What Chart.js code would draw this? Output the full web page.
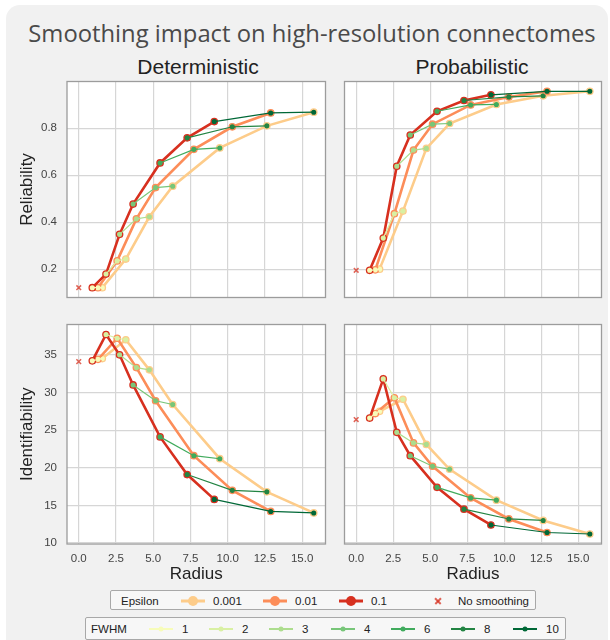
<!DOCTYPE html>
<html>
<head>
<meta charset="utf-8">
<script src="https://cdn.jsdelivr.net/npm/chart.js@4.4.1/dist/chart.umd.min.js"></script>
<style>
  body { margin:0; width:610px; height:640px; overflow:hidden; background:#fff;
         font-family:'Liberation Sans', Arial, sans-serif; position:relative; }
  #panel { position:absolute; left:6px; top:5px; width:602px; height:660px;
           background:#f1f1f1; border-radius:14px; }
  .abs { position:absolute; }
  #title { left:6px; width:612px; top:15px; text-align:center; font-family:'Open Sans', sans-serif;
           font-size:23.8px; line-height:36px; color:#4a4a4a; white-space:nowrap; }
  .col-title { top:54px; font-size:21px; line-height:26px; color:#222; text-align:center; white-space:nowrap; }
  canvas { position:absolute; }
  .legend { position:absolute; background:rgba(255,255,255,0.45); border:1px solid #a8a8a8;
            border-radius:2px; box-sizing:border-box; }
  .lg-text { position:absolute; font-size:11.5px; color:#222; white-space:nowrap; transform:translateY(-50%); }
  .lg-line { position:absolute; transform:translateY(-50%); }
  .lg-dot { position:absolute; border-radius:50%; transform:translate(-50%,-50%); }
  .lg-x { position:absolute; width:8px; height:1.6px; transform:translate(-50%,-50%) rotate(45deg); }
  .lg-x.b { transform:translate(-50%,-50%) rotate(-45deg); }
</style>
</head>
<body>
<div id="panel"></div>
<div id="title" class="abs">Smoothing impact on high-resolution connectomes</div>
<div class="abs col-title" style="left:98px;width:200px;">Deterministic</div>
<div class="abs col-title" style="left:372px;width:200px;">Probabilistic</div>

<canvas id="relDet"  width="331" height="227" style="left:0px;top:76px;"></canvas>
<canvas id="relProb" width="268" height="227" style="left:339px;top:76px;"></canvas>
<canvas id="idDet"   width="331" height="267" style="left:0px;top:319px;"></canvas>
<canvas id="idProb"  width="268" height="267" style="left:339px;top:319px;"></canvas>

<div id="legendEps" class="legend" style="left:110px;top:590px;width:426px;height:20px;"></div>
<div id="legendFwhm" class="legend" style="left:85px;top:617px;width:481px;height:23px;"></div>

<script>
const FONT = "'Liberation Sans', Arial, sans-serif";
Chart.defaults.font.family = FONT;

const epsilons   = ['0.001', '0.01', '0.1'];
const epsColors  = ['#fdcc8a', '#fc8d59', '#d7301f'];
const fwhms      = ['1', '2', '3', '4', '6', '8', '10'];
const fwhmColors = ['#f7fcb9', '#d9f0a3', '#addd8e', '#78c679', '#41ab5d', '#238443', '#006837'];
const noSmoothColor = 'rgba(215,48,31,0.75)';

// kernel radius for every FWHM, per epsilon
const radiusEps001 = [1.58, 3.16, 4.74, 6.31, 9.47, 12.63, 15.78];
const radiusEps01  = [1.29, 2.58, 3.87, 5.16, 7.73, 10.31, 12.89];
const radiusEps1   = [0.91, 1.83, 2.74, 3.65, 5.46, 7.28, 9.10];

// reliability, deterministic
const relDetEps001 = [0.121, 0.243, 0.423, 0.553, 0.716, 0.810, 0.868];
const relDetEps01  = [0.121, 0.235, 0.414, 0.547, 0.710, 0.806, 0.865];
const relDetEps1   = [0.121, 0.179, 0.348, 0.477, 0.652, 0.759, 0.828];
// reliability, probabilistic
const relProbEps001 = [0.200, 0.447, 0.714, 0.820, 0.901, 0.938, 0.957];
const relProbEps01  = [0.197, 0.436, 0.707, 0.817, 0.899, 0.933, 0.957];
const relProbEps1   = [0.195, 0.332, 0.638, 0.771, 0.872, 0.918, 0.942];
// identifiability, deterministic
const idDetEps001 = [34.5, 37.0, 33.0, 28.4, 21.2, 16.8, 14.0];
const idDetEps01  = [34.4, 37.2, 33.3, 28.9, 21.6, 17.0, 14.2];
const idDetEps1   = [34.2, 37.7, 35.0, 31.0, 24.1, 19.1, 15.8];
// identifiability, probabilistic
const idProbEps001 = [27.5, 29.1, 23.1, 19.8, 15.7, 13.0, 11.2];
const idProbEps01  = [27.2, 29.3, 23.3, 20.2, 16.0, 13.2, 11.4];
const idProbEps1   = [26.6, 31.8, 24.7, 21.6, 17.4, 14.5, 12.4];

// unsmoothed baseline (radius 0)
const noSmoothRel = { det: 0.121, prob: 0.195 };
const noSmoothId  = { det: 34.1,  prob: 26.4 };

const radiusTicks = [0, 2.5, 5, 7.5, 10, 12.5, 15];
const relTicks    = [0.2, 0.4, 0.6, 0.8];
const idTicks     = [10, 15, 20, 25, 30, 35];

const radii = [radiusEps001, radiusEps01, radiusEps1];

// matplotlib-like 5% margins, shared per row / column
function padRange(values) {
  const lo = Math.min(...values), hi = Math.max(...values);
  const m = (hi - lo) * 0.05;
  return [lo - m, hi + m];
}
const xRange   = padRange([0, ...radii.flat()]);
const relRange = padRange([...relDetEps001, ...relDetEps01, ...relDetEps1,
                           ...relProbEps001, ...relProbEps01, ...relProbEps1]);
const idRange  = padRange([...idDetEps001, ...idDetEps01, ...idDetEps1,
                           ...idProbEps001, ...idProbEps01, ...idProbEps1]);

// white plotting area + grey frame around it
const frame = {
  id: 'frame',
  beforeDraw(chart) {
    const { ctx, chartArea: a } = chart;
    ctx.save();
    ctx.fillStyle = '#fff';
    ctx.fillRect(a.left, a.top, a.right - a.left, a.bottom - a.top);
    ctx.restore();
  },
  afterDatasetsDraw(chart) {
    const { ctx, chartArea: a } = chart;
    ctx.save();
    ctx.strokeStyle = '#9c9c9c';
    ctx.lineWidth = 1.3;
    ctx.strokeRect(a.left, a.top, a.right - a.left, a.bottom - a.top);
    ctx.restore();
  }
};

function buildDatasets(series, noSmooth) {
  const sets = [];
  sets.push({
    label: 'No smoothing',
    data: [{ x: 0, y: noSmooth }],
    showLine: false,
    pointStyle: 'crossRot',
    pointRadius: 3.3,
    pointBorderWidth: 1.5,
    pointBorderColor: noSmoothColor,
    order: 0
  });
  fwhms.forEach((f, i) => {
    sets.push({
      label: 'FWHM ' + f,
      data: [2, 1, 0].map(e => ({ x: radii[e][i], y: series[e][i] })),
      borderColor: fwhmColors[i],
      borderWidth: 1.2,
      pointRadius: 1.8,
      pointBorderWidth: 0,
      pointBackgroundColor: fwhmColors[i],
      order: 1
    });
  });
  epsilons.forEach((eps, e) => {
    sets.push({
      label: 'Epsilon ' + eps,
      data: radii[e].map((x, i) => ({ x, y: series[e][i] })),
      borderColor: epsColors[e],
      borderWidth: 2.6,
      pointRadius: 3.2,
      pointBorderWidth: 1.3,
      pointBorderColor: epsColors[e],
      pointBackgroundColor: fwhmColors,
      order: 4 - e
    });
  });
  return sets;
}

const gridOpts = { color: '#d6d6d6', lineWidth: 1.2, drawTicks: false };
const tickFont = { size: 11.5, family: FONT };
const titleFont = { size: 17, family: FONT };

function makePanel(id, series, noSmooth, yRange, yTicks, cfg) {
  new Chart(document.getElementById(id), {
    type: 'line',
    data: { datasets: buildDatasets(series, noSmooth) },
    plugins: [frame],
    options: {
      responsive: false,
      animation: false,
      events: [],
      layout: { padding: cfg.padding },
      plugins: { legend: { display: false }, tooltip: { enabled: false } },
      scales: {
        x: {
          type: 'linear',
          min: xRange[0],
          max: xRange[1],
          afterBuildTicks: s => { s.ticks = radiusTicks.map(v => ({ value: v })); },
          afterFit: s => { s.height = cfg.xH; s.paddingLeft = 0; s.paddingRight = 0; },
          grid: gridOpts,
          border: { display: false },
          ticks: { display: cfg.showX, padding: 8, font: tickFont, color: '#444',
                   maxRotation: 0, autoSkip: false, callback: v => v.toFixed(1) },
          title: { display: cfg.showX, text: 'Radius', font: titleFont, color: '#222',
                   padding: { top: 0, bottom: 1 } }
        },
        y: {
          type: 'linear',
          min: yRange[0],
          max: yRange[1],
          afterBuildTicks: s => { s.ticks = yTicks.map(v => ({ value: v })); },
          afterFit: s => { s.width = cfg.yW; s.paddingTop = 0; s.paddingBottom = 0; },
          grid: gridOpts,
          border: { display: false },
          ticks: { display: !!cfg.yTitle, padding: 10, font: tickFont, color: '#444',
                   autoSkip: false, callback: cfg.yFmt },
          title: { display: !!cfg.yTitle, text: cfg.yTitle || '', font: titleFont, color: '#222',
                   padding: { top: 17, bottom: 0 } }
        }
      }
    }
  });
}

const leftTop   = { padding: { left: 0, top: 4, right: 2, bottom: 2 }, xH: 0,  yW: 67, showX: false };
const rightTop  = { padding: { left: 3, top: 4, right: 4, bottom: 2 }, xH: 0,  yW: 0,  showX: false };
const leftBot   = { padding: { left: 0, top: 4, right: 2, bottom: 0 }, xH: 42, yW: 67, showX: true };
const rightBot  = { padding: { left: 3, top: 4, right: 4, bottom: 0 }, xH: 42, yW: 0,  showX: true };

makePanel('relDet', [relDetEps001, relDetEps01, relDetEps1], noSmoothRel.det, relRange, relTicks,
  { ...leftTop, yTitle: 'Reliability', yFmt: v => v.toFixed(1) });
makePanel('relProb', [relProbEps001, relProbEps01, relProbEps1], noSmoothRel.prob, relRange, relTicks,
  { ...rightTop });
makePanel('idDet', [idDetEps001, idDetEps01, idDetEps1], noSmoothId.det, idRange, idTicks,
  { ...leftBot, yTitle: 'Identifiability', yFmt: v => String(v) });
makePanel('idProb', [idProbEps001, idProbEps01, idProbEps1], noSmoothId.prob, idRange, idTicks,
  { ...rightBot });

// legends (positions relative to each box)
function addEl(parent, cls, style, text) {
  const el = document.createElement('div');
  el.className = cls;
  Object.assign(el.style, style);
  if (text) el.textContent = text;
  parent.appendChild(el);
  return el;
}

const epsBox = document.getElementById('legendEps');
const epsMid = '9.5px';
const epsHandleX = [70, 152, 228];
addEl(epsBox, 'lg-text', { left: '10px', top: epsMid }, 'Epsilon');
epsilons.forEach((eps, e) => {
  const x = epsHandleX[e];
  addEl(epsBox, 'lg-line', { left: x + 'px', top: epsMid, width: '24px', height: '3px', background: epsColors[e] });
  addEl(epsBox, 'lg-dot', { left: (x + 12) + 'px', top: epsMid, width: '10px', height: '10px', background: epsColors[e] });
  addEl(epsBox, 'lg-text', { left: (x + 32) + 'px', top: epsMid }, eps);
});
addEl(epsBox, 'lg-x', { left: '327px', top: epsMid, background: noSmoothColor });
addEl(epsBox, 'lg-x b', { left: '327px', top: epsMid, background: noSmoothColor });
addEl(epsBox, 'lg-text', { left: '347px', top: epsMid }, 'No smoothing');

const fwhmBox = document.getElementById('legendFwhm');
const fwhmMid = '10.5px';
const fwhmHandleX = [63, 123, 183, 245, 305, 365, 427];
addEl(fwhmBox, 'lg-text', { left: '5px', top: fwhmMid }, 'FWHM');
fwhms.forEach((f, i) => {
  const x = fwhmHandleX[i];
  addEl(fwhmBox, 'lg-line', { left: x + 'px', top: fwhmMid, width: '24px', height: '2px', background: fwhmColors[i] });
  addEl(fwhmBox, 'lg-dot', { left: (x + 12) + 'px', top: fwhmMid, width: '5px', height: '5px', background: fwhmColors[i] });
  addEl(fwhmBox, 'lg-text', { left: (x + 33) + 'px', top: fwhmMid }, f);
});
</script>
</body>
</html>
